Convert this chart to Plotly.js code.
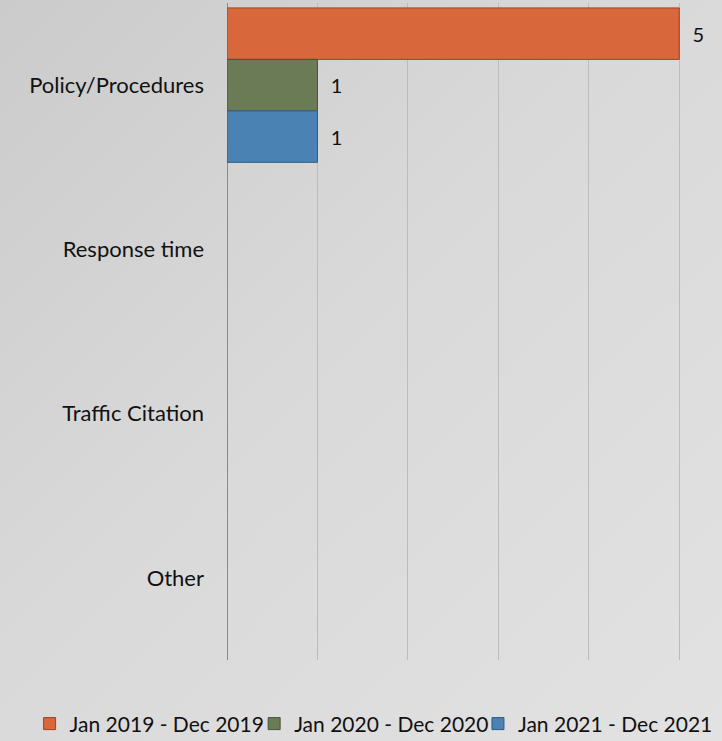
<!DOCTYPE html>
<html>
<head>
<meta charset="utf-8">
<script src="https://cdn.plot.ly/plotly-3.0.1.min.js"></script>
<style>
  html, body { margin: 0; padding: 0; }
  body {
    width: 722px; height: 741px; overflow: hidden;
    background: linear-gradient(135deg, #cbcbcb 0%, #d9d9d9 45%, #e2e2e2 100%);
  }
  #chart { width: 722px; height: 741px; }
</style>
</head>
<body>
<div id="chart"></div>
<script>
  // Complaint categories, top to bottom
  var categories = ["Policy/Procedures", "Response time", "Traffic Citation", "Other"];

  // One series per period; empty categories have no bar
  var seriesNames = ["Jan 2019 - Dec 2019", "Jan 2020 - Dec 2020", "Jan 2021 - Dec 2021"];
  var values2019 = [5, null, null, null];
  var values2020 = [1, null, null, null];
  var values2021 = [1, null, null, null];

  var FILL = ["#d8683c", "#6a7b56", "#4a82b4"];
  var EDGE = ["#9a4322", "#47553a", "#2f5a80"];
  var TEXT = "#111111";
  var FONT = "Lato, 'Open Sans', sans-serif";

  var allValues = [values2019, values2020, values2021];

  // Each series gets its own one-item legend so the key stays on one row
  // (a single horizontal legend wraps at the plot width).
  var LEGEND_IDS = ["legend", "legend2", "legend3"];
  var LEGEND_X = [0.041, 0.352, 0.662];

  var traces = allValues.map(function (vals, i) {
    return {
      type: "bar",
      orientation: "h",
      name: seriesNames[i],
      legend: LEGEND_IDS[i],
      y: categories,
      x: vals,
      marker: { color: FILL[i], line: { color: EDGE[i], width: 1 } },
      texttemplate: "  %{x}",
      textposition: "outside",
      textfont: { color: TEXT, size: 20, family: FONT },
      cliponaxis: false,
      hoverinfo: "x+name"
    };
  });

  function legendAt(x) {
    return {
      orientation: "h",
      xref: "container",
      yref: "container",
      x: x,
      xanchor: "left",
      y: 0.023,
      yanchor: "middle",
      font: { size: 21, color: TEXT, family: FONT },
      itemwidth: 30,
      bgcolor: "rgba(0,0,0,0)"
    };
  }

  var layout = {
    width: 722,
    height: 741,
    autosize: false,
    paper_bgcolor: "rgba(0,0,0,0)",
    plot_bgcolor: "rgba(0,0,0,0)",
    // x range runs a hair past 5 so the last gridline is drawn at 5
    margin: { l: 227, r: 40, t: 3, b: 81 },
    barmode: "group",
    bargap: 0.06,
    bargroupgap: 0,
    font: { family: FONT, color: TEXT, size: 22 },
    showlegend: true,
    legend: legendAt(LEGEND_X[0]),
    legend2: legendAt(LEGEND_X[1]),
    legend3: legendAt(LEGEND_X[2]),
    xaxis: {
      range: [0, 5.03],
      dtick: 1,
      showticklabels: false,
      ticks: "",
      showgrid: true,
      gridcolor: "#bcbcbc",
      gridwidth: 1,
      zeroline: true,
      zerolinecolor: "#8a8a8a",
      zerolinewidth: 1,
      showline: false,
      fixedrange: true
    },
    yaxis: {
      type: "category",
      autorange: "reversed",
      ticks: "",
      ticklabelstandoff: 22,
      tickfont: { size: 22, color: TEXT, family: FONT },
      showgrid: false,
      zeroline: false,
      showline: false,
      fixedrange: true
    }
  };

  Plotly.newPlot("chart", traces, layout, { displayModeBar: false, staticPlot: true });
</script>
</body>
</html>
